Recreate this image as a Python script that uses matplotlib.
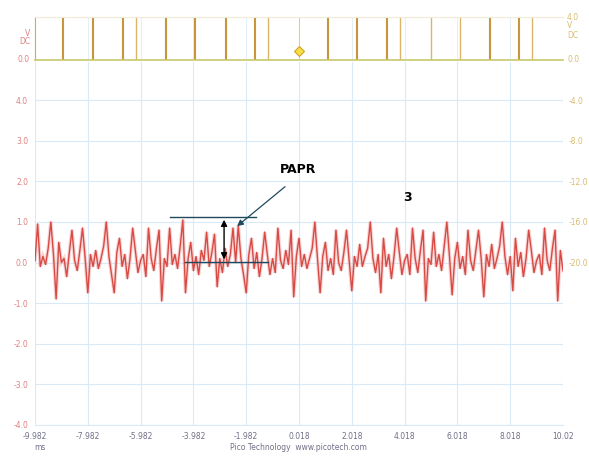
import numpy as np
import matplotlib
matplotlib.use("Agg")
import matplotlib.pyplot as plt

# time axis (ms) and channel values
t_start, t_end = -9.982, 10.018
x_ticks = [-9.982, -7.982, -5.982, -3.982, -1.982, 0.018, 2.018, 4.018, 6.018, 8.018, 10.018]
x_labels = ["-9.982", "-7.982", "-5.982", "-3.982", "-1.982", "0.018", "2.018", "4.018", "6.018", "8.018", "10.02"]
left_ticks = [4, 3, 2, 1, 0, -1, -2, -3, -4]
left_labels = ["4.0", "3.0", "2.0", "1.0", "0.0", "-1.0", "-2.0", "-3.0", "-4.0"]
right_ticks = [-4, -8, -12, -16, -20]
right_labels = ["-4.0", "-8.0", "-12.0", "-16.0", "-20.0"]

# signal (V), one sample per ~0.1 ms
signal = [
    0.05, 0.95, -0.1, 0.15, -0.05, 0.35, 1.0, 0.2, -0.9, 0.5,
    0.0, 0.1, -0.35, 0.25, 0.8, 0.05, -0.2, 0.3, 0.85, 0.1,
    -0.75, 0.2, -0.1, 0.3, -0.15, 0.1, 0.4, 1.0, 0.15, -0.3,
    -0.75, 0.25, 0.6, -0.1, 0.2, -0.4, 0.1, 0.85, 0.3, -0.25,
    0.05, 0.2, -0.35, 0.85, 0.1, -0.2, 0.35, 0.8, -0.95, 0.1,
    -0.1, 0.85, -0.05, 0.2, -0.15, 0.4, 1.05, -0.75, 0.1, 0.5,
    -0.2, 0.15, -0.3, 0.3, 0.05, 0.75, -0.1, 0.25, 0.7, -0.6,
    0.1, -0.25, 0.35, -0.1, 0.2, 0.85, 0.0, 0.9, 0.1, -0.3,
    -0.75, 0.2, 0.6, -0.15, 0.25, -0.35, 0.1, 0.75, 0.2, -0.3,
    0.1, -0.25, 0.85, 0.05, -0.15, 0.3, -0.05, 0.8, -0.85, 0.15,
    0.6, -0.1, 0.2, -0.15, 0.1, 0.35, 1.0, 0.1, -0.75, 0.15,
    0.5, -0.2, 0.1, -0.3, 0.8, 0.0, -0.2, 0.25, 0.8, 0.05,
    -0.7, 0.15, -0.1, 0.45, -0.1, 0.15, 0.35, 1.0, 0.1, -0.25,
    0.2, -0.75, 0.6, -0.1, 0.2, -0.4, 0.15, 0.85, 0.25, -0.3,
    0.05, 0.2, -0.3, 0.85, 0.1, -0.25, 0.3, 0.8, -0.95, 0.1,
    -0.05, 0.75, -0.1, 0.2, -0.2, 0.4, 1.0, 0.15, -0.8, 0.1,
    0.5, -0.15, 0.15, -0.3, 0.8, 0.05, -0.2, 0.3, 0.8, 0.1,
    -0.85, 0.2, -0.1, 0.45, -0.15, 0.1, 0.4, 1.0, 0.15, -0.3,
    0.15, -0.7, 0.6, -0.1, 0.25, -0.35, 0.1, 0.8, 0.3, -0.25,
    0.05, 0.2, -0.3, 0.85, 0.05, -0.2, 0.35, 0.8, -0.95, 0.3,
    -0.2,
]

# pulse channel (top view): pulse times in ms, strong / faint
pulses_strong = [-8.92, -7.79, -6.65, -5.02, -3.92, -2.75, -1.65, 1.12, 2.22, 3.35, 7.25, 8.35]
pulses_faint = [-6.16, -1.16, 3.84, 5.02, 6.12, 8.84]
trigger_time, trigger_level = 0.018, 0.85

grid_c = "#d9e9f5"
red_lbl = "#e08080"
yel_lbl = "#d8bc70"
x_lbl = "#707088"

fig = plt.figure(figsize=(5.89, 4.62), dpi=100)

# ---- main view
ax = fig.add_axes([35/589, 37/462, 528/589, 363/462])
t = np.linspace(t_start, t_end, len(signal))
ax.plot(t, signal, color="#f0a0a0", lw=2.6, alpha=0.45, solid_joinstyle="miter")
ax.plot(t, signal, color="#d84a44", lw=1.0)
ax.set_xlim(t_start, t_end)
ax.set_ylim(-4, 4.936)
ax.set_xticks(x_ticks)
ax.set_xticklabels(x_labels)
ax.set_yticks(left_ticks)
ax.set_yticklabels(left_labels)
ax.grid(True, color=grid_c, lw=0.8)
ax.tick_params(axis="x", length=0, pad=5, labelsize=5.5, labelcolor=x_lbl)
ax.tick_params(axis="y", length=0, pad=5, labelsize=5.5, labelcolor=red_lbl)
for s in ax.spines.values():
    s.set_visible(False)
ax.spines["bottom"].set_visible(True)
ax.spines["bottom"].set_color(grid_c)

ax2 = ax.twinx()
ax2.set_ylim(4 * -4 - 20, 4 * 4.936 - 20)
ax2.set_yticks(right_ticks)
ax2.set_yticklabels(right_labels)
ax2.tick_params(axis="y", length=0, pad=4, labelsize=5.5, labelcolor=yel_lbl)
for s in ax2.spines.values():
    s.set_visible(False)

# PAPR annotation
line_c = "#1f4a5c"
ax.plot([-4.87, -1.61], [1.12, 1.12], color=line_c, lw=1.0)
ax.plot([-4.30, -1.16], [0.01, 0.01], color=line_c, lw=1.0)
ax.annotate("", xy=(-2.82, 1.12), xytext=(-2.82, 0.01),
            arrowprops=dict(arrowstyle="<|-|>", color="black", lw=1.0, mutation_scale=9))
ax.annotate("", xy=(-2.41, 0.85), xytext=(-0.43, 1.91),
            arrowprops=dict(arrowstyle="-|>", color=line_c, lw=0.9, mutation_scale=9))
ax.text(0.0, 2.28, "PAPR", fontsize=9, fontweight="bold", ha="center", va="center")
ax.text(4.11, 1.59, "3", fontsize=9, fontweight="bold", ha="center", va="center")

fig.text(40/589, 1 - 447/462, "ms", fontsize=5.5, color=x_lbl, ha="center", va="center")
fig.text(298/589, 1 - 447/462, "Pico Technology  www.picotech.com", fontsize=5.5,
         color=x_lbl, ha="center", va="center")

# ---- top view (pulse channel)
axt = fig.add_axes([35/589, 402/462, 528/589, 43/462])
axt.set_xlim(t_start, t_end)
axt.set_ylim(0, 4)
axt.set_xticks(x_ticks)
axt.set_yticks([])
axt.tick_params(axis="x", length=0, labelbottom=False)
axt.grid(True, axis="x", color="#e4eef6", lw=0.7)
axt.vlines(pulses_strong, 0, 4, color="#c8943c", lw=1.5)
axt.vlines(pulses_faint, 0, 4, color="#dcb468", lw=1.0)
axt.vlines([trigger_time], 0, 4, color="#d8d0a0", lw=0.8)
axt.plot([trigger_time], [trigger_level], marker="D", ms=5, color="#f4e040",
         mec="#d8a030", mew=0.8)
for s in axt.spines.values():
    s.set_visible(False)
axt.spines["bottom"].set_visible(True)
axt.spines["bottom"].set_color("#c8c86c")
axt.spines["bottom"].set_linewidth(1.2)
axt.spines["left"].set_visible(True)
axt.spines["left"].set_color("#b8b070")
axt.spines["top"].set_visible(True)
axt.spines["top"].set_color("#f0ecd8")

for txt, yy in [("V", 33), ("DC", 42), ("0.0", 60)]:
    fig.text(30/589, 1 - yy/462, txt, fontsize=5.5, color=red_lbl, ha="right", va="center")
for txt, yy in [("4.0", 17), ("V", 26), ("DC", 35), ("0.0", 60)]:
    fig.text(567/589, 1 - yy/462, txt, fontsize=5.5, color=yel_lbl, ha="left", va="center")

fig.savefig("out.png", dpi=100, facecolor="white")
